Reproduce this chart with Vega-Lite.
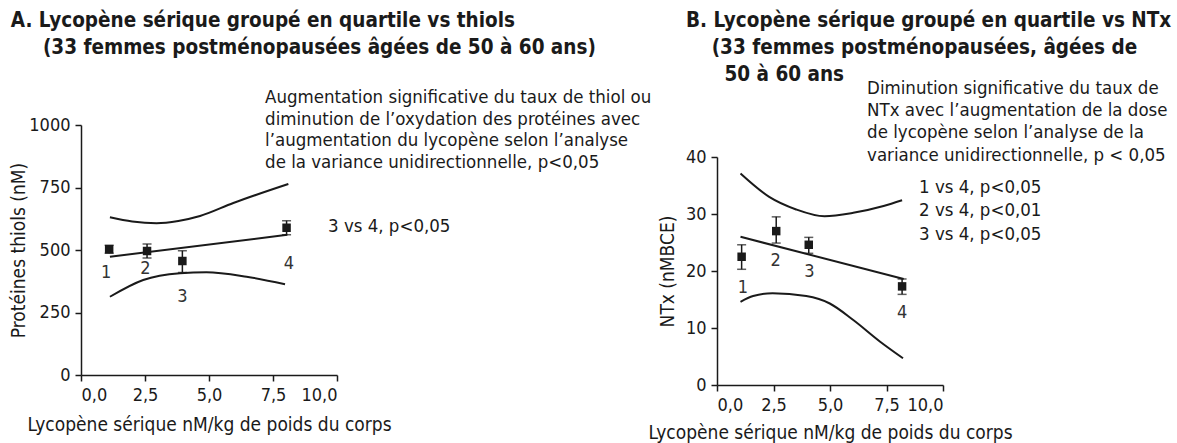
{
  "$schema": "https://vega.github.io/schema/vega-lite/v6.json",
  "padding": {"left": 9, "top": 10, "right": 5, "bottom": 5},
  "background": "white",
  "config": {
    "font": "DejaVu Sans Condensed, Liberation Sans",
    "view": {"stroke": null},
    "axis": {
      "grid": false, "domainColor": "#1a1a1a", "tickColor": "#1a1a1a", "domainWidth": 1.5, "tickWidth": 1.5, "tickSize": 6,
      "labelFontSize": 18, "labelColor": "#1a1a1a", "titleFontSize": 19, "titleFontWeight": "normal", "titleColor": "#1a1a1a", "labelPadding": 5
    },
    "title": {"anchor": "start", "frame": "bounds", "fontSize": 20.5, "fontWeight": "bold", "color": "#1a1a1a", "lineHeight": 27}
  },
  "datasets": {
    "ptsA": [
      {"x": 1.1, "y": 503, "lo": 487, "hi": 519},
      {"x": 2.58, "y": 496, "lo": 468, "hi": 524},
      {"x": 3.96, "y": 456, "lo": 410, "hi": 497},
      {"x": 8.03, "y": 589, "lo": 561, "hi": 617}
    ],
    "linesA": [
      {"s": "fit", "x": 1.13, "y": 473}, {"s": "fit", "x": 8.06, "y": 561},
      {"s": "up", "x": 1.13, "y": 631}, {"s": "up", "x": 2.0, "y": 614}, {"s": "up", "x": 2.95, "y": 607}, {"s": "up", "x": 3.8, "y": 616}, {"s": "up", "x": 4.65, "y": 636}, {"s": "up", "x": 5.95, "y": 688}, {"s": "up", "x": 8.1, "y": 764},
      {"s": "low", "x": 1.13, "y": 313}, {"s": "low", "x": 2.43, "y": 380}, {"s": "low", "x": 3.87, "y": 407}, {"s": "low", "x": 4.9, "y": 411}, {"s": "low", "x": 6.47, "y": 393}, {"s": "low", "x": 7.97, "y": 363}
    ],
    "labA": [
      {"x": 0.98, "y": 407, "t": "1"}, {"x": 2.52, "y": 423, "t": "2"}, {"x": 3.96, "y": 313, "t": "3"}, {"x": 8.12, "y": 444, "t": "4"}
    ],
    "noteA": [
      {"x": 7.19, "y": 1112, "t": "Augmentation significative du taux de thiol ou"},
      {"x": 7.19, "y": 1026, "t": "diminution de l’oxydation des protéines avec"},
      {"x": 7.19, "y": 940, "t": "l’augmentation du lycopène selon l’analyse"},
      {"x": 7.19, "y": 852, "t": "de la variance unidirectionnelle, p<0,05"},
      {"x": 9.65, "y": 596, "t": "3 vs 4, p<0,05"}
    ],
    "ptsB": [
      {"x": 1.09, "y": 22.5, "lo": 20.3, "hi": 24.6},
      {"x": 2.62, "y": 27.0, "lo": 24.9, "hi": 29.5},
      {"x": 4.06, "y": 24.6, "lo": 23.1, "hi": 25.9},
      {"x": 8.19, "y": 17.3, "lo": 15.9, "hi": 18.6}
    ],
    "linesB": [
      {"s": "fit", "x": 1.04, "y": 26.0}, {"s": "fit", "x": 8.26, "y": 18.6},
      {"s": "up", "x": 1.04, "y": 37.1}, {"s": "up", "x": 2.31, "y": 33.0}, {"s": "up", "x": 3.5, "y": 30.8}, {"s": "up", "x": 4.76, "y": 29.6}, {"s": "up", "x": 6.03, "y": 30.2}, {"s": "up", "x": 7.37, "y": 31.4}, {"s": "up", "x": 8.19, "y": 32.4},
      {"s": "low", "x": 1.04, "y": 14.6}, {"s": "low", "x": 1.6, "y": 15.6}, {"s": "low", "x": 2.46, "y": 16.1}, {"s": "low", "x": 3.95, "y": 15.6}, {"s": "low", "x": 4.99, "y": 14.3}, {"s": "low", "x": 6.03, "y": 11.4}, {"s": "low", "x": 7.22, "y": 7.6}, {"s": "low", "x": 8.23, "y": 4.7}
    ],
    "labB": [
      {"x": 1.15, "y": 17.0, "t": "1"}, {"x": 2.6, "y": 21.8, "t": "2"}, {"x": 4.09, "y": 19.8, "t": "3"}, {"x": 8.19, "y": 12.7, "t": "4"}
    ],
    "noteB": [
      {"x": 6.64, "y": 52.1, "t": "Diminution significative du taux de"},
      {"x": 6.64, "y": 48.2, "t": "NTx avec l’augmentation de la dose"},
      {"x": 6.64, "y": 44.3, "t": "de lycopène selon l’analyse de la"},
      {"x": 6.64, "y": 40.3, "t": "variance unidirectionnelle, p < 0,05"},
      {"x": 8.94, "y": 34.7, "t": "1 vs 4, p<0,05"},
      {"x": 8.94, "y": 30.7, "t": "2 vs 4, p<0,01"},
      {"x": 8.94, "y": 26.5, "t": "3 vs 4, p<0,05"}
    ]
  },
  "spacing": -5,
  "hconcat": [
    {
      "width": 256, "height": 250,
      "title": {"text": ["A. Lycopène sérique groupé en quartile vs thiols", "\u200b\u00a0\u00a0\u00a0\u00a0\u00a0(33 femmes postménopausées âgées de 50 à 60 ans)"], "offset": 30, "dx": 1},
      "encoding": {
        "x": {"field": "x", "type": "quantitative", "scale": {"domain": [0, 10], "nice": false},
              "axis": {"values": [0, 2.5, 5, 7.5, 10], "labelExpr": "replace(format(datum.value, '.1f'), '.', ',')", "title": "Lycopène sérique nM/kg de poids du corps", "titlePadding": 11}},
        "y": {"field": "y", "type": "quantitative", "scale": {"domain": [0, 1000], "nice": false},
              "axis": {"values": [0, 250, 500, 750, 1000], "format": "d", "title": "Protéines thiols (nM)", "titlePadding": 0}}
      },
      "layer": [
        {"data": {"name": "linesA"}, "mark": {"type": "line", "color": "#1a1a1a", "strokeWidth": 2, "interpolate": "monotone"}, "encoding": {"detail": {"field": "s"}}},
        {"data": {"name": "ptsA"}, "mark": {"type": "rule", "color": "#1a1a1a", "strokeWidth": 1.5}, "encoding": {"y": {"field": "lo", "type": "quantitative"}, "y2": {"field": "hi"}}},
        {"data": {"name": "ptsA"}, "mark": {"type": "tick", "color": "#1a1a1a", "thickness": 1.5, "size": 9, "orient": "horizontal"}, "encoding": {"y": {"field": "lo", "type": "quantitative"}}},
        {"data": {"name": "ptsA"}, "mark": {"type": "tick", "color": "#1a1a1a", "thickness": 1.5, "size": 9, "orient": "horizontal"}, "encoding": {"y": {"field": "hi", "type": "quantitative"}}},
        {"data": {"name": "ptsA"}, "mark": {"type": "square", "color": "#1a1a1a", "opacity": 1, "filled": true, "size": 72}},
        {"data": {"name": "labA"}, "mark": {"type": "text", "fontSize": 18, "color": "#333", "baseline": "middle", "align": "center"}, "encoding": {"text": {"field": "t"}}},
        {"data": {"name": "noteA"}, "mark": {"type": "text", "fontSize": 18.5, "color": "#1a1a1a", "baseline": "middle", "align": "left"}, "encoding": {"text": {"field": "t"}}}
      ]
    },
    {
      "width": 226, "height": 260,
      "title": {"text": ["B. Lycopène sérique groupé en quartile vs NTx", "\u200b\u00a0\u00a0\u00a0\u00a0(33 femmes postménopausées, âgées de", "\u200b\u00a0\u00a0\u00a0\u00a0\u00a0\u00a050 à 60 ans"], "offset": -6, "dx": 38},
      "encoding": {
        "x": {"field": "x", "type": "quantitative", "scale": {"domain": [0, 10], "nice": false},
              "axis": {"values": [0, 2.5, 5, 7.5, 10], "labelExpr": "replace(format(datum.value, '.1f'), '.', ',')", "title": "Lycopène sérique nM/kg de poids du corps", "titlePadding": 9}},
        "y": {"field": "y", "type": "quantitative", "scale": {"domain": [0, 40], "nice": false, "range": [260, 32]},
              "axis": {"values": [0, 10, 20, 30, 40], "format": "d", "title": "NTx (nMBCE)", "titlePadding": 8}}
      },
      "layer": [
        {"data": {"name": "linesB"}, "mark": {"type": "line", "color": "#1a1a1a", "strokeWidth": 2, "interpolate": "monotone"}, "encoding": {"detail": {"field": "s"}}},
        {"data": {"name": "ptsB"}, "mark": {"type": "rule", "color": "#1a1a1a", "strokeWidth": 1.5}, "encoding": {"y": {"field": "lo", "type": "quantitative"}, "y2": {"field": "hi"}}},
        {"data": {"name": "ptsB"}, "mark": {"type": "tick", "color": "#1a1a1a", "thickness": 1.5, "size": 9, "orient": "horizontal"}, "encoding": {"y": {"field": "lo", "type": "quantitative"}}},
        {"data": {"name": "ptsB"}, "mark": {"type": "tick", "color": "#1a1a1a", "thickness": 1.5, "size": 9, "orient": "horizontal"}, "encoding": {"y": {"field": "hi", "type": "quantitative"}}},
        {"data": {"name": "ptsB"}, "mark": {"type": "square", "color": "#1a1a1a", "opacity": 1, "filled": true, "size": 72}},
        {"data": {"name": "labB"}, "mark": {"type": "text", "fontSize": 18, "color": "#333", "baseline": "middle", "align": "center"}, "encoding": {"text": {"field": "t"}}},
        {"data": {"name": "noteB"}, "mark": {"type": "text", "fontSize": 18.5, "color": "#1a1a1a", "baseline": "middle", "align": "left"}, "encoding": {"text": {"field": "t"}}}
      ]
    }
  ]
}
